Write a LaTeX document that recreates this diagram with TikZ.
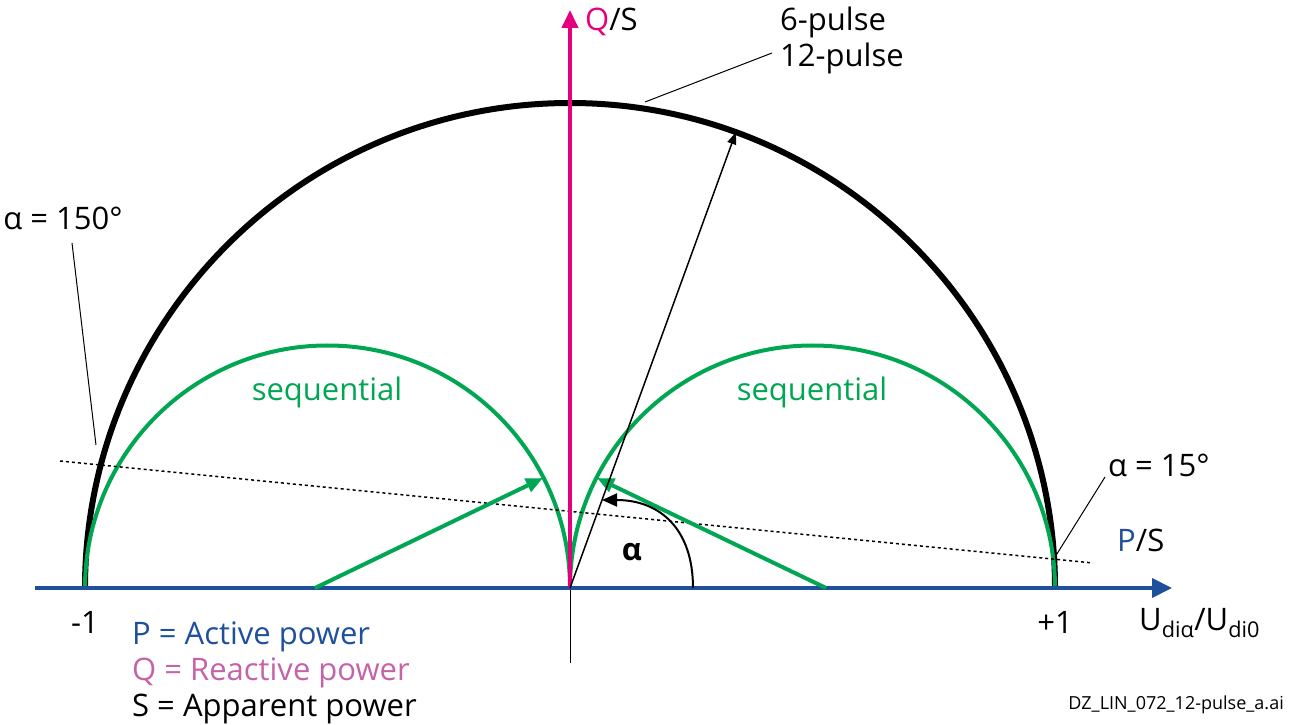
\documentclass[tikz,border=0pt]{standalone}
\usepackage{fontspec}
\setmainfont{Open Sans}
\usetikzlibrary{arrows.meta,calc}
\definecolor{AxisPClr}{RGB}{31,80,156}
\definecolor{AxisQClr}{RGB}{228,0,124}
\definecolor{SeqClr}{RGB}{0,166,81}
\definecolor{LegendQClr}{RGB}{198,98,168}

\begin{document}
\begin{tikzpicture}[x=1pt,y=1pt,
  lbl/.style={font=\fontsize{31}{36}\selectfont,inner sep=0pt},
  seqarc/.style={line width=4pt,color=SeqClr},
  seqarrow/.style={line width=4pt,color=SeqClr,-{Triangle[length=17pt,width=14pt]}},
  leader/.style={line width=1pt,color=black}]
\useasboundingbox (0,0) rectangle (1296,724);

\coordinate (O) at (570,136);
\coordinate (Pend) at (1172,136);
\coordinate (Pstart) at (35,136);
\coordinate (Qend) at (570,714);
\coordinate (Low) at (570,61);
\coordinate (Mleft) at (327.5,136);
\coordinate (Mright) at (812.5,136);
\coordinate (S) at ($(O)+(70:485)$);

% circles
\draw[line width=6pt] (85,136) arc[start angle=180,end angle=0,radius=485];
\draw[seqarc] (85,136) arc[start angle=180,end angle=0,radius=242.5];
\draw[seqarc] (O) arc[start angle=180,end angle=0,radius=242.5];

\draw[dotted,line width=1.5pt,dash pattern=on 3pt off 3pt] (60,263) -- (1093,161);

% axes
\draw[line width=1pt] (O) -- (Low);
\draw[line width=4pt,color=AxisPClr,-{Triangle[length=20pt,width=19pt]}] (Pstart) -- (Pend);
\draw[line width=4pt,color=AxisQClr,-{Triangle[length=18pt,width=16pt]}] (O) -- (Qend);

% green arrows
\coordinate (GlA) at (315,136);
\coordinate (GlB) at (543,246);
\coordinate (GrA) at (826,136);
\coordinate (GrB) at (597,246);
\draw[seqarrow] (GlA) -- (GlB);
\draw[seqarrow] (GrA) -- (GrB);

% apparent power and angle
\draw[line width=1.5pt,-{Triangle[length=12pt,width=9pt]}] (O) -- (S);
\coordinate (AngA) at (693,136);
\coordinate (AngB) at (602,224);
\draw[line width=2pt,-{Triangle[length=15pt,width=13pt]}] (AngA) .. controls (693,195) and (660,224) .. (AngB);
\node[lbl,font=\fontsize{31}{36}\selectfont\bfseries] (alpha) at (632,172) {α};

% leaders
\coordinate (L1a) at (72,481);
\coordinate (L1b) at (96,279);
\coordinate (L2a) at (1055,167);
\coordinate (L2b) at (1105,247);
\coordinate (L3a) at (645,622);
\coordinate (L3b) at (772,671);
\draw[leader] (L1a) -- (L1b);
\draw[leader] (L2a) -- (L2b);
\draw[leader] (L3a) -- (L3b);

\node[lbl] (a150) at (63,506) {α = 150°};
\node[lbl,anchor=west] (a15) at (1108,259) {α = 15°};
\node[lbl,anchor=west] (p6) at (780,702) {6-pulse};
\node[lbl,anchor=west] (p12) at (780,666) {12-pulse};

\node[lbl,anchor=west] (QS) at (585,702) {\textcolor{AxisQClr}{Q}/S};
\node[lbl,anchor=west] (PS) at (1117,184) {\textcolor{AxisPClr}{P}/S};
\node[lbl,anchor=west] (U) at (1139,101) {U\textsubscript{diα}/U\textsubscript{di0}};
\node[lbl] (m1) at (85,102) {-1};
\node[lbl] (p1) at (1055,102) {+1};

\node[lbl,color=SeqClr] (seqL) at (327,332) {sequential};
\node[lbl,color=SeqClr] (seqR) at (812,332) {sequential};

\node[lbl,anchor=west,color=AxisPClr] (legP) at (132,87) {P = Active power};
\node[lbl,anchor=west,color=LegendQClr] (legQ) at (132,51) {Q = Reactive power};
\node[lbl,anchor=west] (legS) at (132,15) {S = Apparent power};

\node[inner sep=0pt,anchor=east,font=\fontsize{18}{22}\selectfont] (fname) at (1284,19) {DZ\_LIN\_072\_12-pulse\_a.ai};
\end{tikzpicture}
\end{document}
